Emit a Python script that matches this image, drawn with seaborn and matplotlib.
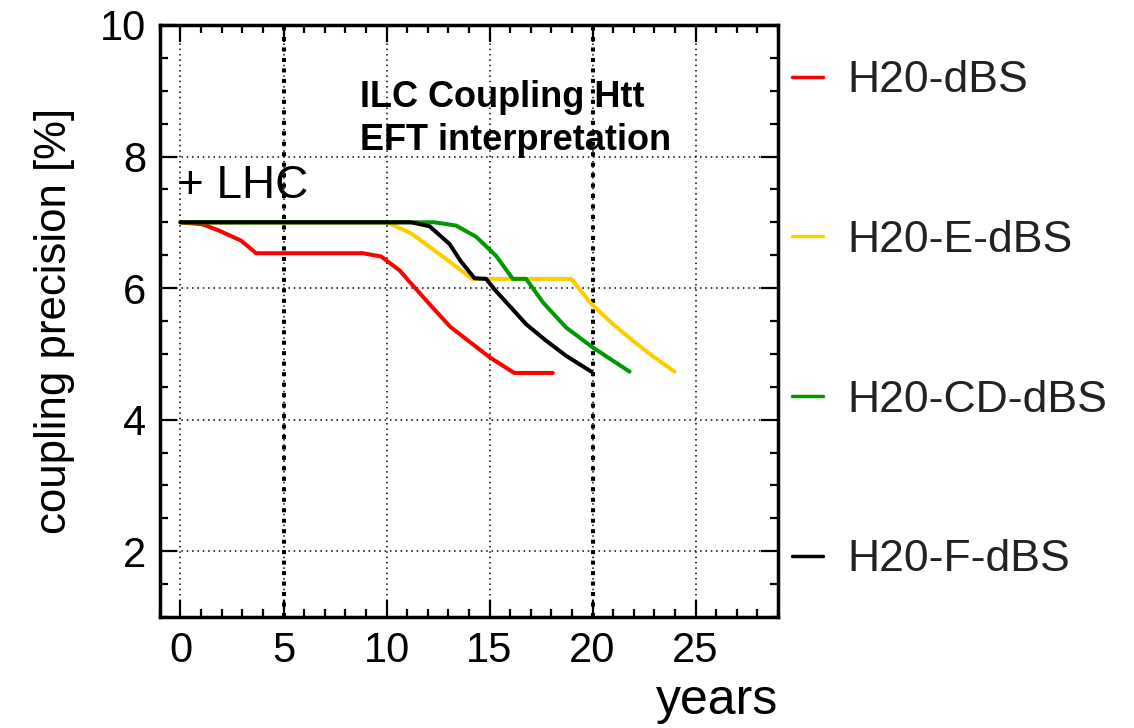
import matplotlib
matplotlib.use("Agg")
import matplotlib.pyplot as plt
import seaborn as sns
import pandas as pd
from matplotlib.ticker import MultipleLocator

# ---- data ----
labels = ["H20-dBS", "H20-E-dBS", "H20-CD-dBS", "H20-F-dBS"]
colors = ["#ff0000", "#ffcc00", "#009900", "#000000"]

years_dbs = [0, 1.07, 1.9, 2.95, 3.67, 8.85, 9.74, 10.63, 11.28, 12.25, 13.1, 14.05, 15.0, 16.2, 18.07]
prec_dbs = [7.0, 6.97, 6.87, 6.72, 6.53, 6.53, 6.48, 6.27, 6.04, 5.7, 5.41, 5.18, 4.95, 4.71, 4.71]

years_e = [0, 10.0, 11.15, 12.25, 13.2, 14.15, 18.97, 19.94, 21.0, 21.96, 22.9, 23.98]
prec_e = [7.0, 7.0, 6.84, 6.59, 6.37, 6.14, 6.14, 5.76, 5.45, 5.2, 4.97, 4.73]

years_cd = [0, 12.33, 13.38, 14.35, 15.32, 16.13, 16.78, 17.6, 18.72, 20.0, 21.8]
prec_cd = [7.0, 7.0, 6.95, 6.78, 6.49, 6.14, 6.14, 5.78, 5.4, 5.1, 4.73]

years_f = [0, 11.2, 12.09, 13.06, 13.6, 14.27, 14.84, 15.24, 15.97, 16.78, 17.75, 18.72, 19.94]
prec_f = [7.0, 7.0, 6.94, 6.67, 6.41, 6.15, 6.14, 5.98, 5.73, 5.45, 5.2, 4.97, 4.73]

stage_years = [5, 20]
x_ticks = [0, 5, 10, 15, 20, 25]
y_ticks = [2, 4, 6, 8, 10]

frames = []
for lab, xs, ys in zip(labels, [years_dbs, years_e, years_cd, years_f],
                       [prec_dbs, prec_e, prec_cd, prec_f]):
    frames.append(pd.DataFrame({"years": xs, "precision": ys, "scenario": lab}))
df = pd.concat(frames, ignore_index=True)

sns.set_theme(style="white")
plt.rcParams["font.family"] = ["Liberation Sans", "DejaVu Sans"]
plt.rcParams["text.color"] = "black"
plt.rcParams["axes.labelcolor"] = "black"

fig = plt.figure(figsize=(11.34, 7.28), dpi=100)
ax = fig.add_axes([0.141, 0.1525, 0.545, 0.8132])

sns.lineplot(data=df, x="years", y="precision", hue="scenario", hue_order=labels,
             palette=colors, estimator=None, sort=False, lw=2.9, ax=ax, legend=True)

for sy in stage_years:
    ax.axvline(sy, color="black", lw=2.9, linestyle=(0, (1, 1.6)), zorder=1)

ax.set_xlim(-1, 29)
ax.set_ylim(1, 10)
ax.set_xticks(x_ticks)
ax.set_yticks(y_ticks)
ax.xaxis.set_minor_locator(MultipleLocator(1))
ax.yaxis.set_minor_locator(MultipleLocator(0.5))
ax.grid(True, which="major", color="black", lw=1.1, linestyle=(0, (1, 2.5)))
ax.tick_params(which="both", direction="in", top=True, right=True, bottom=True, left=True,
               colors="black", labelcolor="black", width=1.6)
ax.tick_params(which="major", length=12, labelsize=30, pad=10)
ax.tick_params(which="minor", length=6)
for sp in ax.spines.values():
    sp.set_color("black")
    sp.set_linewidth(2.5)

ax.set_xlabel("years", fontsize=36, loc="right", labelpad=5, color="black")
ax.set_ylabel("coupling precision [%]", fontsize=31.5, labelpad=18, color="black")

ax.text(8.69, 8.9, "ILC Coupling Htt", fontsize=26, fontweight="bold", va="center",
        ha="left", color="black")
ax.text(8.69, 8.25, "EFT interpretation", fontsize=26, fontweight="bold", va="center",
        ha="left", color="black")
ax.text(-0.15, 7.55, "+ LHC", fontsize=33, va="center", ha="left", color="black")

handles, labs = ax.get_legend_handles_labels()
ax.get_legend().remove()
leg = fig.legend(handles, labs, loc="upper left", bbox_to_anchor=(0.6635, 0.972),
                 frameon=False, fontsize=32, labelspacing=2.67, handlelength=0.68,
                 handletextpad=0.56, labelcolor="#222222")
for h in leg.legend_handles:
    h.set_linewidth(2.5)

fig.savefig("out.png", dpi=100)
